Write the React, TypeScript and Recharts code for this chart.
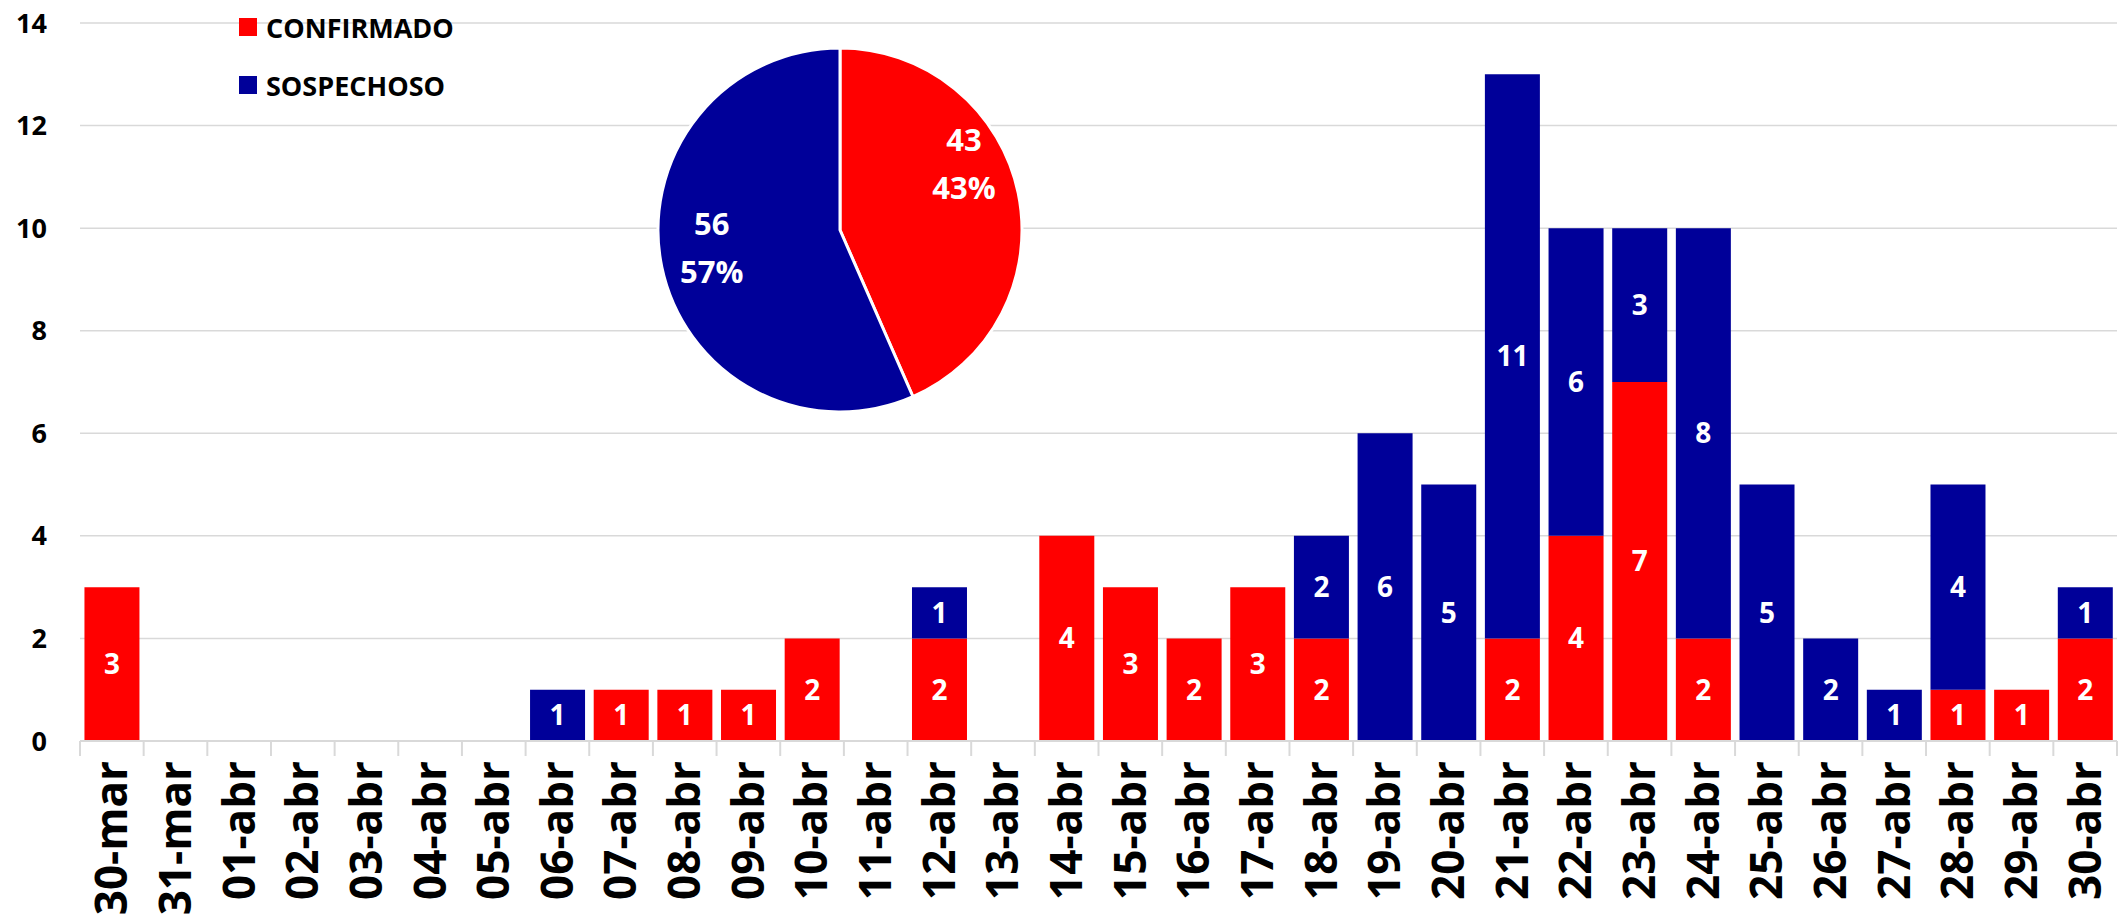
import { Bar, BarChart, CartesianGrid, Cell, LabelList, Pie, PieChart, XAxis, YAxis } from "recharts";

const dates = [
  "30-mar", "31-mar", "01-abr", "02-abr", "03-abr", "04-abr", "05-abr", "06-abr",
  "07-abr", "08-abr", "09-abr", "10-abr", "11-abr", "12-abr", "13-abr", "14-abr",
  "15-abr", "16-abr", "17-abr", "18-abr", "19-abr", "20-abr", "21-abr", "22-abr",
  "23-abr", "24-abr", "25-abr", "26-abr", "27-abr", "28-abr", "29-abr", "30-abr",
];
const confirmado = [3, 0, 0, 0, 0, 0, 0, 0, 1, 1, 1, 2, 0, 2, 0, 4, 3, 2, 3, 2, 0, 0, 2, 4, 7, 2, 0, 0, 0, 1, 1, 2];
const sospechoso = [0, 0, 0, 0, 0, 0, 0, 1, 0, 0, 0, 0, 0, 1, 0, 0, 0, 0, 0, 2, 6, 5, 11, 6, 3, 8, 5, 2, 1, 4, 0, 1];
const yTicks = [0, 2, 4, 6, 8, 10, 12, 14];

const RED = "#ff0000";
const BLUE = "#000099";
const FONT = "'Open Sans', sans-serif";

const W = 2125;
const H = 923;
const PLOT_LEFT = 80;
const PLOT_RIGHT = 8;
const STEP = (W - PLOT_LEFT - PLOT_RIGHT) / dates.length;

const rows = dates.map((d, i) => ({ fecha: d, confirmado: confirmado[i], sospechoso: sospechoso[i] }));
const sum = (a: number[]) => a.reduce((s, v) => s + v, 0);
const series = [
  { key: "confirmado", name: "CONFIRMADO", color: RED },
  { key: "sospechoso", name: "SOSPECHOSO", color: BLUE },
];
const pieData = [
  { name: "CONFIRMADO", value: sum(confirmado), color: RED },
  { name: "SOSPECHOSO", value: sum(sospechoso), color: BLUE },
];

function DateTick(props: any) {
  const { x, y, payload, index } = props;
  const last = index === dates.length - 1;
  return (
    <g transform={`translate(${x},${y})`}>
      <line x1={-STEP / 2} x2={-STEP / 2} y1={0} y2={15} stroke="#d9d9d9" strokeWidth={2} />
      {last && <line x1={STEP / 2} x2={STEP / 2} y1={0} y2={15} stroke="#d9d9d9" strokeWidth={2} />}
      <text
        transform="rotate(-90)"
        x={-20}
        y={0}
        dy="0.35em"
        textAnchor="end"
        fontSize={44}
        fontWeight={700}
        fontFamily={FONT}
        fill="#000"
      >
        {payload.value}
      </text>
    </g>
  );
}

function renderPieLabel(p: any) {
  const rad = Math.PI / 180;
  const r = p.outerRadius * 0.72;
  // the red slice label sits a bit higher in the original
  const ang = p.index === 0 ? p.midAngle + 14 : p.midAngle;
  const x = p.cx + r * Math.cos(-ang * rad) + (p.index === 0 ? 6 : 0);
  const y = p.cy + r * Math.sin(-ang * rad);
  return (
    <text x={x} y={y} fill="#fff" textAnchor="middle" fontSize={31} fontWeight={700} fontFamily={FONT}>
      <tspan x={x} dy={-22}>{p.value}</tspan>
      <tspan x={x} dy={48}>{Math.round(p.percent * 100)}%</tspan>
    </text>
  );
}

const hideZero = (v: any) => (v ? v : "");

export default function App() {
  return (
    <div style={{ position: "absolute", left: 0, top: 0, width: W, height: H, background: "#fff" }}>
      <BarChart
        width={W}
        height={H}
        data={rows}
        margin={{ top: 23, right: PLOT_RIGHT, left: 0, bottom: 0 }}
        barCategoryGap="7%"
      >
        <CartesianGrid vertical={false} stroke="#d9d9d9" strokeWidth={1.5} />
        <XAxis
          dataKey="fecha"
          interval={0}
          height={182}
          tickSize={0}
          tickMargin={0}
          tickLine={false}
          axisLine={{ stroke: "#d9d9d9", strokeWidth: 2 }}
          tick={<DateTick />}
        />
        <YAxis
          width={PLOT_LEFT}
          domain={[0, 14]}
          ticks={yTicks}
          axisLine={false}
          tickLine={false}
          tickSize={0}
          tickMargin={33}
          tick={{ fontSize: 27, fontWeight: 700, fill: "#000", fontFamily: FONT }}
        />
        {series.map((s) => (
          <Bar key={s.key} dataKey={s.key} name={s.name} stackId="a" fill={s.color} isAnimationActive={false}>
            <LabelList dataKey={s.key} position="center" fill="#fff" fontSize={28} fontWeight={700} fontFamily={FONT} formatter={hideZero} />
          </Bar>
        ))}
      </BarChart>

      <div style={{ position: "absolute", left: 239, top: -2, fontFamily: FONT, fontWeight: 700, fontSize: 27, color: "#000" }}>
        {series.map((s) => (
          <div key={s.key} style={{ display: "flex", alignItems: "center", height: 58 }}>
            <span style={{ width: 18, height: 18, background: s.color, marginRight: 9, display: "inline-block" }} />
            {s.name}
          </div>
        ))}
      </div>

      <div style={{ position: "absolute", left: 635, top: 25 }}>
        <PieChart width={400} height={400}>
          <Pie
            data={pieData}
            dataKey="value"
            cx={200}
            cy={200}
            outerRadius={182}
            startAngle={90}
            endAngle={-270}
            stroke="#fff"
            strokeWidth={3}
            labelLine={false}
            label={renderPieLabel}
            isAnimationActive={false}
          >
            {pieData.map((d) => (
              <Cell key={d.name} fill={d.color} />
            ))}
          </Pie>
        </PieChart>
      </div>
    </div>
  );
}
